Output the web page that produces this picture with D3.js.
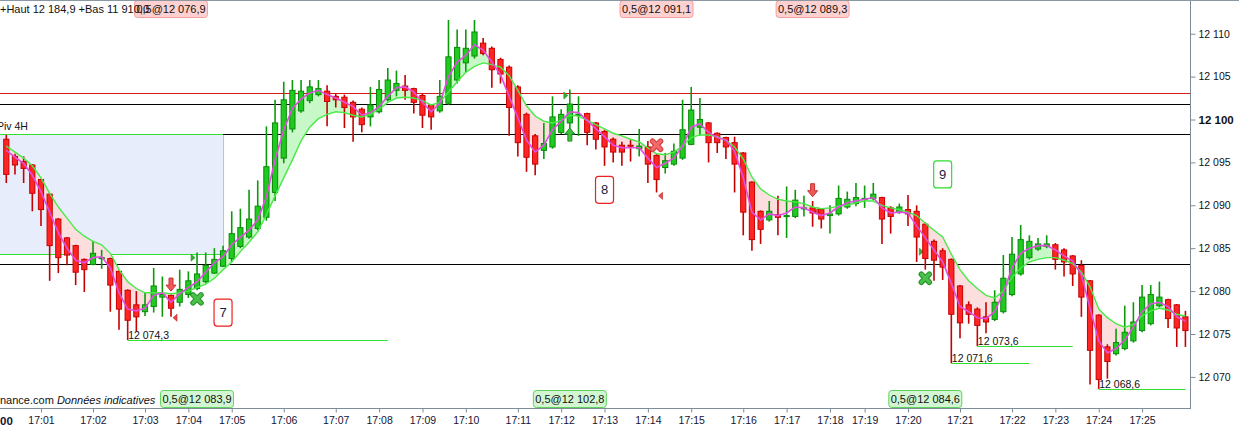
<!DOCTYPE html>
<html><head><meta charset="utf-8">
<script src="https://cdn.jsdelivr.net/npm/d3@7"></script>
<style>
html,body{margin:0;padding:0;background:#fff;overflow:hidden;}
svg{display:block;font-family:"Liberation Sans",Arial,sans-serif;}
</style></head><body>
<svg id="c" width="1239" height="428"></svg>
<script>
// ---------------- DATA ----------------
const open = [
12097.7,12095.7,12095.1,12094.7,12093.0,12091.3,12088.4,12086.2,12085.3,12083.7,
12083.1,12083.8,12083.8,12082.3,12080.1,12078.4,12077.6,12078.2,12079.3,12079.5,
12078.7,12079.6,12080.3,12081.1,12082.1,12082.9,12083.8,12085.2,12086.3,12087.3,
12088.6,12091.5,12095.5,12098.9,12101.0,12102.2,12102.9,12103.3,12102.7,12102.6,
12102.0,12101.2,12100.3,12100.9,12102.3,12103.4,12103.9,12103.6,12102.8,12101.7,
12101.0,12101.9,12104.6,12106.6,12107.4,12108.9,12108.3,12107.0,12106.1,12103.8,
12100.6,12098.1,12096.4,12096.8,12098.5,12099.6,12100.5,12100.7,12099.6,12098.6,
12097.7,12097.0,12097.0,12096.6,12096.8,12095.8,12094.4,12094.8,12095.5,12097.1,
12099.1,12099.6,12098.4,12097.9,12097.3,12096.1,12092.7,12089.3,12088.3,12088.9,
12088.7,12088.7,12089.6,12089.7,12089.5,12088.8,12089.0,12089.8,12090.2,12090.7,
12090.8,12090.9,12089.7,12089.2,12089.5,12089.3,12087.8,12085.8,12084.7,12083.7,
12080.6,12078.4,12077.9,12077.0,12076.7,12077.6,12079.6,12082.0,12083.9,12084.9,
12085.2,12085.4,12084.8,12084.1,12083.0,12081.2,12077.2,12073.5,12072.7,12073.3,
12074.2,12075.4,12076.2,12078.3,12079.0,12078.4,12077.0];
const high = [
12098.2,12096.0,12095.7,12094.8,12093.1,12091.4,12088.5,12086.3,12085.4,12083.8,
12085.8,12084.8,12083.9,12082.4,12080.2,12080.0,12079.8,12082.7,12081.7,12079.6,
12082.5,12082.3,12084.5,12084.5,12085.0,12085.3,12089.3,12089.6,12091.8,12092.9,
12099.2,12102.3,12104.4,12104.6,12104.6,12104.6,12104.6,12104.0,12103.0,12102.9,
12102.2,12101.4,12103.8,12104.6,12106.0,12105.7,12105.2,12103.7,12103.0,12101.8,
12104.6,12111.6,12110.5,12110.5,12111.6,12109.5,12108.5,12107.2,12106.3,12104.0,
12100.8,12098.3,12099.6,12102.7,12101.2,12103.5,12102.7,12100.8,12099.7,12098.8,
12097.9,12097.4,12097.6,12098.9,12097.5,12096.0,12096.1,12097.2,12102.3,12103.8,
12102.5,12099.7,12098.5,12098.0,12098.0,12096.2,12092.8,12089.4,12090.5,12091.1,
12092.2,12091.8,12091.1,12090.5,12089.6,12090.0,12092.3,12091.6,12092.6,12092.3,
12092.6,12091.0,12089.9,12090.2,12091.2,12090.0,12088.0,12086.0,12085.0,12083.8,
12080.7,12078.8,12078.1,12078.7,12080.1,12084.2,12086.3,12087.7,12086.5,12086.2,
12086.5,12085.6,12085.0,12084.2,12083.6,12081.3,12077.3,12073.8,12075.6,12078.3,
12078.7,12080.7,12080.7,12081.1,12079.1,12078.5,12077.7];
const low = [
12092.6,12093.6,12092.6,12089.3,12087.6,12081.2,12082.1,12083.0,12080.7,12079.9,
12083.0,12082.6,12077.6,12075.5,12074.3,12075.3,12077.1,12077.5,12077.0,12077.0,
12078.2,12079.2,12080.1,12080.9,12082.0,12082.8,12083.4,12085.0,12086.1,12087.1,
12088.2,12090.5,12094.9,12098.5,12100.8,12101.9,12102.7,12099.2,12101.4,12099.0,
12097.4,12098.5,12099.2,12100.7,12102.1,12102.7,12102.3,12100.7,12099.0,12098.8,
12100.8,12101.7,12104.2,12105.5,12107.1,12107.5,12103.7,12104.2,12098.1,12095.7,
12093.9,12093.5,12095.4,12096.6,12098.3,12098.1,12098.1,12097.0,12096.5,12094.6,
12095.0,12094.6,12095.1,12095.7,12092.6,12091.5,12093.7,12094.6,12095.3,12097.0,
12098.1,12095.0,12096.1,12095.4,12091.5,12086.5,12084.7,12085.5,12088.1,12086.5,
12086.2,12088.5,12088.7,12087.5,12087.3,12086.7,12088.8,12089.6,12089.9,12089.7,
12090.6,12085.5,12086.7,12089.0,12087.6,12083.4,12082.5,12081.2,12081.3,12071.6,
12074.5,12076.2,12073.6,12075.1,12076.5,12077.4,12079.4,12081.8,12083.7,12084.7,
12085.0,12082.5,12081.7,12080.6,12077.0,12069.1,12068.6,12069.8,12072.5,12073.1,
12074.0,12075.2,12076.0,12078.1,12075.7,12073.5,12073.5];
const close = [
12093.6,12094.7,12094.3,12091.4,12089.5,12085.3,12083.9,12084.2,12082.2,12082.5,
12084.4,12083.9,12080.7,12077.9,12076.6,12077.0,12078.4,12080.6,12079.6,12078.0,
12080.2,12081.2,12082.0,12083.0,12083.7,12084.7,12086.7,12087.4,12088.4,12089.9,
12094.5,12099.6,12102.3,12103.4,12103.3,12103.8,12103.6,12102.1,12102.3,12101.4,
12100.3,12099.4,12101.7,12103.5,12104.6,12104.2,12103.4,12102.0,12100.5,12100.3,
12102.7,12107.3,12108.4,12108.3,12110.2,12107.7,12105.8,12105.3,12101.4,12097.3,
12095.6,12094.8,12097.2,12100.3,12100.6,12101.8,12100.6,12098.5,12097.7,12096.8,
12096.2,12096.2,12096.9,12096.9,12094.8,12093.0,12095.2,12096.3,12098.8,12101.1,
12100.0,12097.3,12097.3,12096.8,12094.8,12089.2,12086.0,12087.2,12089.3,12088.6,
12088.8,12090.6,12089.7,12089.1,12088.4,12089.0,12090.8,12090.7,12090.9,12090.8,
12091.3,12088.4,12088.7,12089.8,12089.0,12086.3,12083.8,12083.6,12082.8,12077.3,
12076.3,12077.3,12076.0,12076.4,12078.7,12081.5,12084.3,12086.0,12085.8,12085.5,
12085.5,12083.7,12083.4,12082.0,12079.3,12073.1,12069.7,12071.8,12074.0,12075.2,
12076.4,12079.3,12079.6,12079.3,12076.8,12075.7,12075.4];
// fast (pink) and slow (green) averages
const fastLine = [
12096.4,12095.6,12094.9,12093.5,12091.6,12089.2,12086.8,12085.0,12083.6,12083.3,
12083.9,12084.0,12082.7,12079.8,12077.9,12077.7,12078.0,12079.5,12079.8,12078.7,
12079.7,12080.4,12081.1,12082.2,12083.3,12084.0,12085.4,12086.3,12087.1,12088.3,
12091.0,12095.3,12098.8,12101.3,12102.4,12103.1,12103.4,12102.9,12102.5,12102.0,
12101.5,12100.5,12100.8,12101.5,12102.7,12103.7,12103.8,12103.2,12102.0,12100.9,
12101.9,12105.0,12106.7,12107.5,12108.7,12108.1,12106.7,12105.2,12102.7,12100.2,
12097.6,12096.2,12097.0,12098.8,12099.8,12100.9,12100.8,12099.9,12098.9,12098.0,
12097.0,12096.7,12096.7,12096.7,12095.5,12094.4,12094.9,12095.5,12096.9,12099.1,
12099.5,12098.5,12097.9,12097.6,12096.3,12093.2,12089.2,12088.3,12089.0,12088.8,
12089.1,12089.8,12089.7,12089.2,12088.8,12089.1,12089.8,12090.3,12090.5,12090.7,
12090.9,12089.7,12089.1,12089.2,12089.1,12087.6,12086.2,12084.8,12083.4,12080.9,
12078.2,12077.6,12076.9,12076.8,12077.6,12079.8,12082.7,12084.4,12085.0,12085.3,
12085.3,12084.8,12084.1,12083.5,12081.9,12078.0,12074.2,12072.8,12073.3,12074.3,
12075.8,12077.6,12078.5,12078.7,12078.2,12077.0,12076.5];
const slowLine = [
12096.9,12096.2,12095.5,12094.6,12093.2,12091.4,12089.8,12088.5,12087.2,12086.4,
12085.8,12085.4,12084.4,12082.5,12081.1,12080.3,12079.8,12079.8,12079.8,12079.7,
12079.8,12080.0,12080.4,12080.8,12081.5,12082.5,12083.4,12084.6,12085.7,12086.9,
12088.9,12091.1,12093.2,12095.3,12097.5,12099.1,12100.1,12100.6,12100.9,12100.8,
12100.5,12100.3,12100.6,12101.2,12102.0,12102.5,12102.6,12102.5,12102.2,12101.7,
12102.0,12103.2,12104.4,12105.5,12106.2,12106.6,12106.4,12106.1,12105.1,12103.4,
12101.6,12100.4,12099.8,12099.6,12099.9,12100.5,12100.4,12099.9,12099.4,12098.9,
12098.4,12098.1,12097.7,12097.4,12096.7,12096.0,12095.9,12096.2,12096.9,12097.9,
12098.2,12098.2,12098.0,12097.6,12096.8,12095.4,12093.3,12091.9,12091.2,12090.7,
12090.5,12090.4,12090.2,12089.8,12089.6,12089.7,12089.9,12090.0,12090.3,12090.5,
12090.5,12090.0,12089.7,12089.5,12089.2,12088.8,12087.9,12087.1,12086.3,12084.3,
12082.5,12081.2,12080.3,12079.5,12079.2,12080.0,12081.6,12082.7,12083.4,12083.7,
12083.9,12083.9,12083.6,12083.2,12082.2,12080.5,12077.9,12076.9,12076.2,12075.8,
12076.1,12077.1,12077.7,12078.0,12077.8,12077.3,12077.1];

const timeTickIdx = [-1,4,10,16,21,26,32,38,43,48,53,59,64,69,74,79,85,90,95,99,104,110,116,121,126,131];
const timeTickLabels = ["17:00","17:01","17:02","17:03","17:04","17:05","17:06","17:07","17:08","17:09","17:10","17:11","17:12","17:13","17:14","17:15","17:16","17:17","17:18","17:19","17:20","17:21","17:22","17:23","17:24","17:25"];
const priceTicks = [12070,12075,12080,12085,12090,12095,12100,12105,12110];

const redLevels = [12103.1];
const blackLevels = [12101.8, 12098.3, 12083.2];
const pivotBox = {top:12098.3, bottom:12084.3, endIdx:25};
const pivotName = "Piv 4H";

// trades: candle index, price, marker kind, marker price
const sellIdx = [19, 75, 93];
const sellPrice = [12076.9, 12091.1, 12089.3];
const sellMark = ["arrow","cross","arrow"];
const sellMarkPrice = [12080.0, 12097.0, 12091.0];
const buyIdx = [22, 65, 106];
const buyPrice = [12083.9, 12102.8, 12084.6];
const buyMark = ["cross","arrow","cross"];
const buyMarkPrice = [12079.1, 12099.0, 12081.5];
const tradeSize = "0,5";

const countIdx = [25, 69, 108];
const countVal = [12077.5, 12091.8, 12093.6];
const countText = ["7","8","9"];
const countSide = ["sell","sell","buy"];

const swingIdx = [14, 109, 112, 126];
const swingEnd = [44, 118, 123, 136];
const swingVal = [12074.3, 12071.6, 12073.6, 12068.6];

const headerText = "+Haut 12 184,9 +Bas 11 910,0";
const footerSite = "nance.com";
const footerNote = "Données indicatives";

// ---------------- DRAW ----------------
const W = 1239, H = 428, PR = 1190, PB = 408;
const svg = d3.select("#c");
const loc = d3.formatLocale({decimal:",", thousands:" ", grouping:[3], currency:["",""]});
const fInt = loc.format(",.0f"), f1 = loc.format(",.1f");

const x = d3.scaleLinear().domain([-0.7266, 136.528]).range([0, PR]);
const y = d3.scaleLinear().domain([12070, 12110]).range([376.9, 33.7]);
const idx = d3.range(open.length);

const defs = svg.append("defs");
defs.append("clipPath").attr("id","plot").append("rect").attr("x",0).attr("y",0).attr("width",PR).attr("height",PB);
defs.append("clipPath").attr("id","belowFast").append("path")
  .attr("d", d3.area().x(i=>x(i)).y0(PB).y1(i=>y(fastLine[i]))(idx));
defs.append("clipPath").attr("id","aboveFast").append("path")
  .attr("d", d3.area().x(i=>x(i)).y0(0).y1(i=>y(fastLine[i]))(idx));

const g = svg.append("g").attr("clip-path","url(#plot)");

// pivot box
g.append("rect").attr("x", -2).attr("y", y(pivotBox.top))
  .attr("width", x(pivotBox.endIdx)+2).attr("height", y(pivotBox.bottom)-y(pivotBox.top))
  .attr("fill","#e8edfb").attr("stroke","none");
g.append("line").attr("x1",x(pivotBox.endIdx)+0.5).attr("x2",x(pivotBox.endIdx)+0.5)
  .attr("y1",y(pivotBox.top)).attr("y2",y(pivotBox.bottom)).attr("stroke","#9ed89e").attr("stroke-width",1);

// level lines
blackLevels.forEach(v=>{
  g.append("line").attr("x1",0).attr("x2",PR).attr("y1",Math.round(y(v))+0.5).attr("y2",Math.round(y(v))+0.5)
   .attr("stroke","#000").attr("stroke-width",1);
});
redLevels.forEach(v=>{
  g.append("line").attr("x1",0).attr("x2",PR).attr("y1",Math.round(y(v))+0.5).attr("y2",Math.round(y(v))+0.5)
   .attr("stroke","#d81818").attr("stroke-width",1);
});
[pivotBox.top, pivotBox.bottom].forEach(v=>{
  g.append("line").attr("x1",0).attr("x2",x(pivotBox.endIdx)).attr("y1",Math.round(y(v))+0.5).attr("y2",Math.round(y(v))+0.5)
   .attr("stroke","#2fe02f").attr("stroke-width",1.2);
});
g.append("text").attr("x",-3).attr("y",y(pivotBox.top)-4).attr("font-size",10.5).attr("fill","#111").text(pivotName);

// fills between the averages
g.append("path").attr("d", d3.area().x(i=>x(i)).y0(0).y1(i=>y(slowLine[i]))(idx))
  .attr("clip-path","url(#belowFast)").attr("fill","#c8f8c8");
g.append("path").attr("d", d3.area().x(i=>x(i)).y0(PB).y1(i=>y(slowLine[i]))(idx))
  .attr("clip-path","url(#aboveFast)").attr("fill","#fcdede");

// price triangles
buyIdx.forEach((i,k)=>{
  const cx = x(i), cy = y(buyPrice[k]);
  g.append("path").attr("d",`M${cx-6},${cy-3.5}L${cx-2},${cy}L${cx-6},${cy+3.5}Z`).attr("fill","#30b030").attr("stroke","#1f8f1f").attr("stroke-width",0.6);
});
sellIdx.forEach((i,k)=>{
  const cx = x(i), cy = y(sellPrice[k]);
  g.append("path").attr("d",`M${cx+6},${cy-3.5}L${cx+2},${cy}L${cx+6},${cy+3.5}Z`).attr("fill","#e84848").attr("stroke","#c02020").attr("stroke-width",0.6);
});

// candles
const up = i => close[i] >= open[i];
g.selectAll("line.wick").data(idx).join("line").attr("class","wick")
  .attr("x1",i=>x(i)).attr("x2",i=>x(i)).attr("y1",i=>y(high[i])).attr("y2",i=>y(low[i]))
  .attr("stroke",i=>up(i)?"#0b990b":"#c40000").attr("stroke-width",1.6);
g.selectAll("rect.body").data(idx).join("rect").attr("class","body")
  .attr("x",i=>x(i)-2.6).attr("width",5.2)
  .attr("y",i=>y(Math.max(open[i],close[i])))
  .attr("height",i=>Math.max(1, Math.abs(y(open[i])-y(close[i]))))
  .attr("fill",i=>up(i)?"#1fcb1f":"#ff2525")
  .attr("stroke",i=>up(i)?"#0a8a0a":"#c80000").attr("stroke-width",1);

// averages
g.append("path").attr("d", d3.line().x(i=>x(i)).y(i=>y(slowLine[i]))(idx))
  .attr("fill","none").attr("stroke","#48ea48").attr("stroke-width",1.4);
g.append("path").attr("d", d3.line().x(i=>x(i)).y(i=>y(fastLine[i]))(idx))
  .attr("fill","none").attr("stroke","#e24ee2").attr("stroke-width",1.6);

// trade markers
function arrow(cx, tip, dir, fill, stroke){
  const s = dir; // +1 down arrow (tip at bottom), -1 up arrow
  const p = [[-2,-13],[2,-13],[2,-6],[5,-6],[0,0],[-5,-6],[-2,-6]]
    .map(([a,b])=>`${cx+a},${tip+b*s}`).join("L");
  g.append("path").attr("d","M"+p+"Z").attr("fill",fill).attr("stroke",stroke).attr("stroke-width",1);
}
function cross(cx, cy, fill, stroke){
  const r = 4;
  [[stroke,5.5],[fill,3.2]].forEach(([c,w])=>{
    g.append("path").attr("d",`M${cx-r},${cy-r}L${cx+r},${cy+r}M${cx+r},${cy-r}L${cx-r},${cy+r}`)
      .attr("stroke",c).attr("stroke-width",w).attr("stroke-linecap","round");
  });
}
sellIdx.forEach((i,k)=>{
  if (sellMark[k]==="arrow") arrow(x(i), y(sellMarkPrice[k]), 1, "#f05858", "#c83030");
  else cross(x(i), y(sellMarkPrice[k]), "#f26a6a", "#d84040");
});
buyIdx.forEach((i,k)=>{
  if (buyMark[k]==="arrow") arrow(x(i), y(buyMarkPrice[k]), -1, "#3cbf3c", "#1f8f1f");
  else cross(x(i), y(buyMarkPrice[k]), "#4cc04c", "#2a952a");
});

// swing lows
swingIdx.forEach((i,k)=>{
  const yy = Math.round(y(swingVal[k]))+0.5;
  g.append("line").attr("x1",x(i)).attr("x2",x(swingEnd[k])).attr("y1",yy).attr("y2",yy)
    .attr("stroke","#2fe02f").attr("stroke-width",1.2);
  g.append("text").attr("x",x(i)+0.5).attr("y",yy-2).attr("font-size",10.5).attr("fill","#111").text(f1(swingVal[k]));
});

// counters
countIdx.forEach((i,k)=>{
  const cx = x(i), cy = y(countVal[k]);
  g.append("rect").attr("x",cx-9).attr("y",cy-13.5).attr("width",18).attr("height",27).attr("rx",3)
    .attr("fill","#fff").attr("stroke", countSide[k]==="sell" ? "#ee2020" : "#30dd30").attr("stroke-width",1.2);
  g.append("text").attr("x",cx).attr("y",cy+4.5).attr("text-anchor","middle").attr("font-size",13)
    .attr("fill","#1a1a40").text(countText[k]);
});

// trade labels
function tradeLabel(i, price, top){
  const t = tradeSize + "@" + f1(price);
  const w = 73, h = 17;
  const bx = x(i) - w/2, by = top ? 0.5 : PB - h - 0.5;
  svg.append("rect").attr("x",bx).attr("y",by).attr("width",w).attr("height",h).attr("rx",3)
    .attr("fill", top ? "#ffcccc" : "#cdf5cd").attr("fill-opacity",0.92)
    .attr("stroke", top ? "#f2a0a0" : "#5fd05f").attr("stroke-width",1);
  svg.append("text").attr("x",x(i)).attr("y",by+12.5).attr("text-anchor","middle").attr("font-size",11)
    .attr("fill","#111").text(t);
}
sellIdx.forEach((i,k)=>tradeLabel(i, sellPrice[k], true));
buyIdx.forEach((i,k)=>tradeLabel(i, buyPrice[k], false));

// axes
const axisColor = "#7c8c99";
const yAxis = svg.append("g").attr("transform",`translate(${PR+0.5},0)`)
  .call(d3.axisRight(y).tickValues(priceTicks).tickFormat(fInt).tickSize(5).tickSizeOuter(0).tickPadding(3));
yAxis.select(".domain").remove();
yAxis.selectAll(".tick line").attr("stroke",axisColor);
yAxis.selectAll(".tick text").attr("font-size",10.5).attr("fill","#111")
  .attr("font-family","'Liberation Sans',Arial,sans-serif")
  .attr("font-weight",d=>d%50===0?"bold":null).style("font-size", d=>d%50===0?"11.5px":"10.5px");

const xAxis = svg.append("g").attr("transform",`translate(0,${PB+0.5})`)
  .call(d3.axisBottom(x).tickValues(timeTickIdx).tickFormat((d,i)=>timeTickLabels[i]).tickSize(4).tickSizeOuter(0).tickPadding(4));
xAxis.select(".domain").remove();
xAxis.selectAll(".tick line").attr("stroke",axisColor);
xAxis.selectAll(".tick text").attr("fill","#141432").attr("font-family","'Liberation Sans',Arial,sans-serif")
  .style("font-size",(d,i)=>timeTickLabels[i].endsWith(":00")?"11.5px":"10.5px")
  .attr("font-weight",(d,i)=>timeTickLabels[i].endsWith(":00")?"bold":null);

svg.append("line").attr("x1",0).attr("x2",PR+1).attr("y1",PB+0.5).attr("y2",PB+0.5).attr("stroke",axisColor);
svg.append("line").attr("x1",PR+0.5).attr("x2",PR+0.5).attr("y1",0).attr("y2",PB+1).attr("stroke",axisColor);
svg.append("line").attr("x1",0).attr("x2",W).attr("y1",0.5).attr("y2",0.5).attr("stroke","#8a98a4").attr("stroke-width",1.2);

// header / footer texts
svg.append("text").attr("x",0).attr("y",13).attr("font-size",11).attr("fill","#111").text(headerText);
const ft = svg.append("text").attr("x",0).attr("y",404).attr("font-size",11).attr("fill","#111");
ft.append("tspan").text(footerSite + " ");
ft.append("tspan").attr("font-style","italic").text(footerNote);
</script>
</body></html>
